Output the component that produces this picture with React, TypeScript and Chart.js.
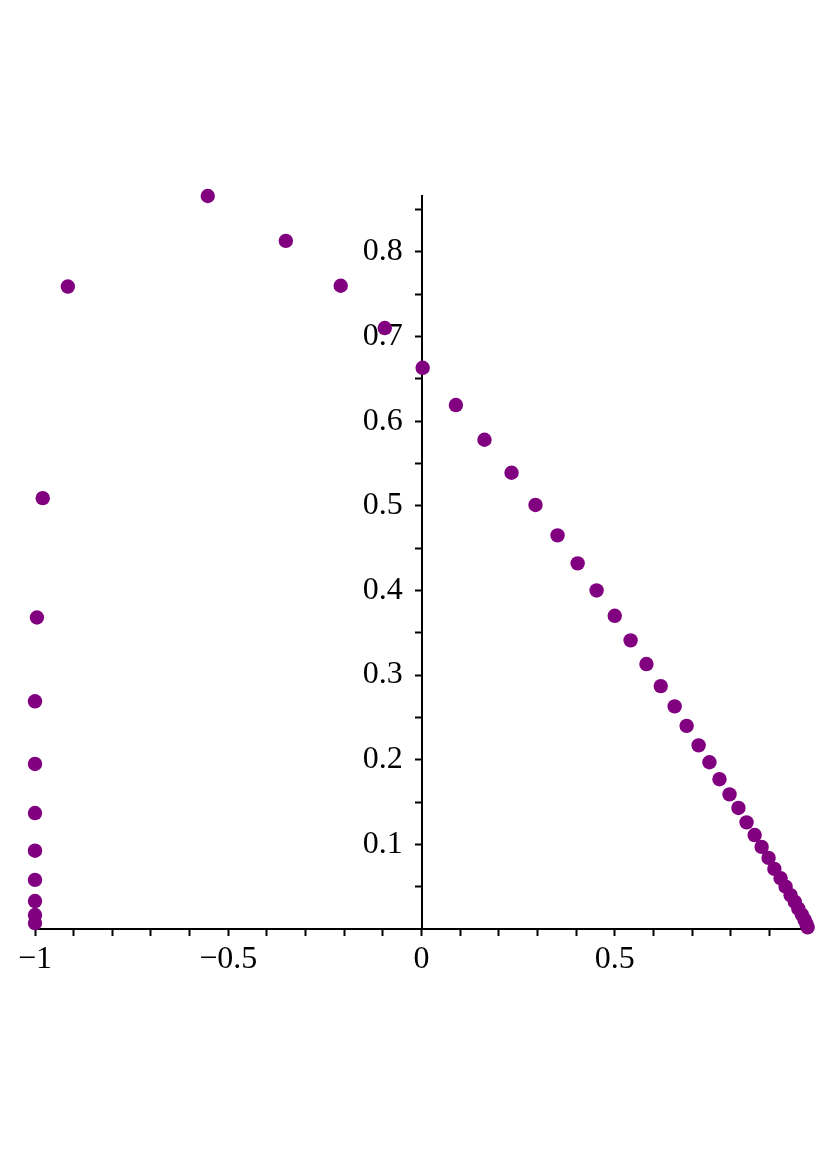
import React, { useEffect, useRef } from "react";
import { Chart, registerables } from "chart.js";

Chart.register(...registerables);

// Point coordinates
const xValues: number[] = [
  -1.0, -1.0, -1.0, -1.0, -1.0, -1.0, -1.0, -1.0, -0.995, -0.98,
  -0.915, -0.553, -0.351, -0.209, -0.095, 0.003,
  0.089, 0.163, 0.233, 0.295, 0.352, 0.404, 0.453, 0.5, 0.541, 0.582,
  0.619, 0.655, 0.686, 0.717, 0.745, 0.771, 0.797, 0.82, 0.841, 0.862,
  0.88, 0.898, 0.913, 0.929, 0.942, 0.955, 0.966, 0.975, 0.984, 0.991,
  0.996, 0.999,
];
const yValues: number[] = [
  0.007, 0.0165, 0.033, 0.058, 0.0925, 0.137, 0.195, 0.269, 0.368, 0.509,
  0.759, 0.866, 0.813, 0.76, 0.71, 0.663,
  0.619, 0.578, 0.539, 0.501, 0.465, 0.432, 0.4, 0.37, 0.341, 0.313,
  0.287, 0.263, 0.24, 0.217, 0.197, 0.177, 0.159, 0.143, 0.126, 0.111,
  0.097, 0.084, 0.071, 0.06, 0.05, 0.04, 0.032, 0.024, 0.017, 0.011,
  0.006, 0.002,
];

const xMin = -1;
const xMax = 1;
const yMin = 0;
const yMax = 0.866;
const xLabelValues: number[] = [-1, -0.5, 0, 0.5];
const yLabelValues: number[] = [0.1, 0.2, 0.3, 0.4, 0.5, 0.6, 0.7, 0.8];

const fmt = (v: number) => {
  const s = String(Math.round(v * 100) / 100);
  return s.replace("-", "\u2212");
};

export default function App() {
  const canvasRef = useRef<HTMLCanvasElement | null>(null);

  useEffect(() => {
    const canvas = canvasRef.current;
    if (!canvas) return;
    const points = xValues.map((x, i) => ({ x, y: yValues[i] }));
    const font = { family: "'Liberation Serif', 'Times New Roman', serif", size: 32 };
    const chart = new Chart(canvas, {
      type: "scatter",
      data: {
        datasets: [
          {
            data: points,
            backgroundColor: "#800080",
            borderWidth: 0,
            pointRadius: 7.2,
            pointHoverRadius: 7.2,
            clip: false as any,
          },
        ],
      },
      options: {
        animation: false,
        responsive: false,
        events: [],
        layout: { padding: { left: 35, right: 23, top: 196, bottom: 246 } },
        plugins: { legend: { display: false }, tooltip: { enabled: false } },
        scales: {
          x: {
            type: "linear",
            position: { y: 0 } as any,
            min: xMin,
            max: xMax,
            afterBuildTicks: (scale: any) => {
              const t: any[] = [];
              for (let k = -10; k <= 9; k++) t.push({ value: k / 10 });
              scale.ticks = t;
            },
            ticks: {
              autoSkip: false,
              maxRotation: 0,
              color: "#000",
              font,
              padding: 5,
              callback: (v: any) => {
                const n = Number(v);
                return xLabelValues.some((l) => Math.abs(l - n) < 1e-6) ? fmt(n) : "";
              },
            },
            grid: {
              drawOnChartArea: false,
              drawTicks: true,
              tickLength: 6,
              color: "#000",
              tickWidth: 2,
            },
            border: { display: true, color: "#000", width: 2 },
          },
          y: {
            type: "linear",
            position: { x: 0 } as any,
            min: yMin,
            max: yMax,
            afterBuildTicks: (scale: any) => {
              const t: any[] = [];
              for (let k = 1; k <= 17; k++) t.push({ value: k / 20 });
              scale.ticks = t;
            },
            ticks: {
              autoSkip: false,
              color: "#000",
              font,
              padding: 6,
              callback: (v: any) => {
                const n = Number(v);
                return yLabelValues.some((l) => Math.abs(l - n) < 1e-6) ? fmt(n) + "\u2002\u200A" : "";
              },
            },
            grid: {
              drawOnChartArea: false,
              drawTicks: true,
              tickLength: 6,
              color: "#000",
              tickWidth: 2,
            },
            border: { display: true, color: "#000", width: 2 },
          },
        },
      },
    });
    return () => chart.destroy();
  }, []);

  return (
    <div style={{ position: "absolute", left: 0, top: 0, width: 831, height: 1175, background: "#fff" }}>
      <canvas ref={canvasRef} width={831} height={1175} style={{ display: "block" }} />
    </div>
  );
}
